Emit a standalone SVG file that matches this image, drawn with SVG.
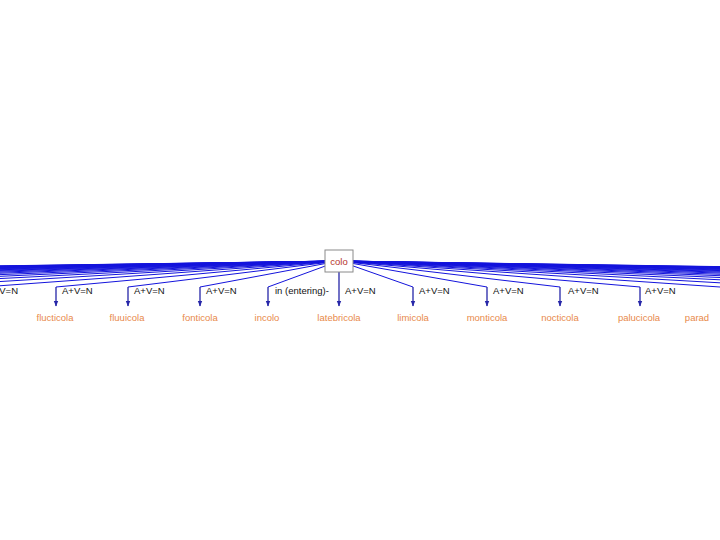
<svg xmlns="http://www.w3.org/2000/svg" width="720" height="540" viewBox="0 0 720 540">
<style>
.e{fill:none;stroke:#1414dc;stroke-width:1}
.v{fill:none;stroke:#2626a8;stroke-width:1.3}
.rel{font-family:"Liberation Sans",Arial,sans-serif;font-size:9.5px;fill:#111}
.leaf{font-family:"Liberation Sans",Arial,sans-serif;font-size:9.5px;fill:#e8894a;text-anchor:middle}
.root{font-family:"Liberation Sans",Arial,sans-serif;font-size:9.5px;fill:#b5332a;text-anchor:middle}
</style>
<defs>
<marker id="ah" viewBox="0 0 6 6" refX="5.5" refY="3" markerWidth="6" markerHeight="6" markerUnits="userSpaceOnUse" orient="auto">
<path d="M0,0.6 L6,3 L0,5.4 Z" fill="#2626a8"/>
</marker>
</defs>
<rect width="720" height="540" fill="#fff"/>
<g id="connectors">
<path class="e" d="M325,261.2 L-1477,287"/>
<path class="e" d="M325,261.2 L-1404,287"/>
<path class="e" d="M325,261.2 L-1331,287"/>
<path class="e" d="M325,261.2 L-1258,287"/>
<path class="e" d="M325,261.2 L-1185,287"/>
<path class="e" d="M325,261.3 L-1112,287"/>
<path class="e" d="M325,261.3 L-1039,287"/>
<path class="e" d="M325,261.3 L-966,287"/>
<path class="e" d="M325,261.3 L-893,287"/>
<path class="e" d="M325,261.3 L-820,287"/>
<path class="e" d="M325,261.3 L-747,287"/>
<path class="e" d="M325,261.4 L-674,287"/>
<path class="e" d="M325,261.4 L-601,287"/>
<path class="e" d="M325,261.4 L-528,287"/>
<path class="e" d="M325,261.5 L-455,287"/>
<path class="e" d="M325,261.5 L-382,287"/>
<path class="e" d="M325,261.6 L-309,287"/>
<path class="e" d="M325,261.6 L-236,287"/>
<path class="e" d="M325,261.7 L-163,287"/>
<path class="e" d="M325,261.8 L-90,287"/>
<path class="e" d="M325,262.0 L-17,287"/>
<path class="e" d="M325,262.3 L56,287"/><path class="v" d="M56,287 L56,306" marker-end="url(#ah)"/>
<path class="e" d="M325,262.7 L128,287"/><path class="v" d="M128,287 L128,306" marker-end="url(#ah)"/>
<path class="e" d="M325,263.6 L200,287"/><path class="v" d="M200,287 L200,306" marker-end="url(#ah)"/>
<path class="e" d="M325,266.1 L268,287"/><path class="v" d="M268,287 L268,306" marker-end="url(#ah)"/>
<path class="v" d="M339,272 L339,306" marker-end="url(#ah)"/>
<path class="e" d="M353,265.9 L413,287"/><path class="v" d="M413,287 L413,306" marker-end="url(#ah)"/>
<path class="e" d="M353,263.5 L487,287"/><path class="v" d="M487,287 L487,306" marker-end="url(#ah)"/>
<path class="e" d="M353,262.6 L560,287"/><path class="v" d="M560,287 L560,306" marker-end="url(#ah)"/>
<path class="e" d="M353,262.2 L640,287"/><path class="v" d="M640,287 L640,306" marker-end="url(#ah)"/>
<path class="e" d="M353,262.0 L720,287"/>
<path class="e" d="M353,261.8 L793,287"/>
<path class="e" d="M353,261.7 L866,287"/>
<path class="e" d="M353,261.6 L939,287"/>
<path class="e" d="M353,261.5 L1012,287"/>
<path class="e" d="M353,261.5 L1085,287"/>
<path class="e" d="M353,261.4 L1158,287"/>
<path class="e" d="M353,261.4 L1231,287"/>
<path class="e" d="M353,261.4 L1304,287"/>
<path class="e" d="M353,261.4 L1377,287"/>
<path class="e" d="M353,261.3 L1450,287"/>
<path class="e" d="M353,261.3 L1523,287"/>
<path class="e" d="M353,261.3 L1596,287"/>
<path class="e" d="M353,261.3 L1669,287"/>
<path class="e" d="M353,261.3 L1742,287"/>
<path class="e" d="M353,261.2 L1815,287"/>
<path class="e" d="M353,261.2 L1888,287"/>
<path class="e" d="M353,261.2 L1961,287"/>
<path class="e" d="M353,261.2 L2034,287"/>
<path class="e" d="M353,261.2 L2107,287"/>
</g>
<g id="edge-labels">
<text class="rel" x="18" y="294" text-anchor="end">V=N</text>
<text class="rel" x="62" y="294">A+V=N</text>
<text class="rel" x="134" y="294">A+V=N</text>
<text class="rel" x="206" y="294">A+V=N</text>
<text class="rel" x="275" y="294">in (entering)-</text>
<text class="rel" x="345" y="294">A+V=N</text>
<text class="rel" x="419" y="294">A+V=N</text>
<text class="rel" x="493" y="294">A+V=N</text>
<text class="rel" x="568" y="294">A+V=N</text>
<text class="rel" x="645" y="294">A+V=N</text>
</g>
<g id="colo">
<rect x="325" y="250" width="28" height="22" fill="#fff" stroke="#8a8a8a" stroke-width="1"/>
<text class="root" x="339" y="265">colo</text>
</g>
<g id="flucticola"><text class="leaf" x="55" y="321">flucticola</text></g>
<g id="fluuicola"><text class="leaf" x="127" y="321">fluuicola</text></g>
<g id="fonticola"><text class="leaf" x="200" y="321">fonticola</text></g>
<g id="incolo"><text class="leaf" x="267" y="321">incolo</text></g>
<g id="latebricola"><text class="leaf" x="339" y="321">latebricola</text></g>
<g id="limicola"><text class="leaf" x="413" y="321">limicola</text></g>
<g id="monticola"><text class="leaf" x="487" y="321">monticola</text></g>
<g id="nocticola"><text class="leaf" x="560" y="321">nocticola</text></g>
<g id="palucicola"><text class="leaf" x="639" y="321">palucicola</text></g>
<g id="parad"><text class="leaf" x="697" y="321" text-anchor="start">parad</text></g>
</svg>
